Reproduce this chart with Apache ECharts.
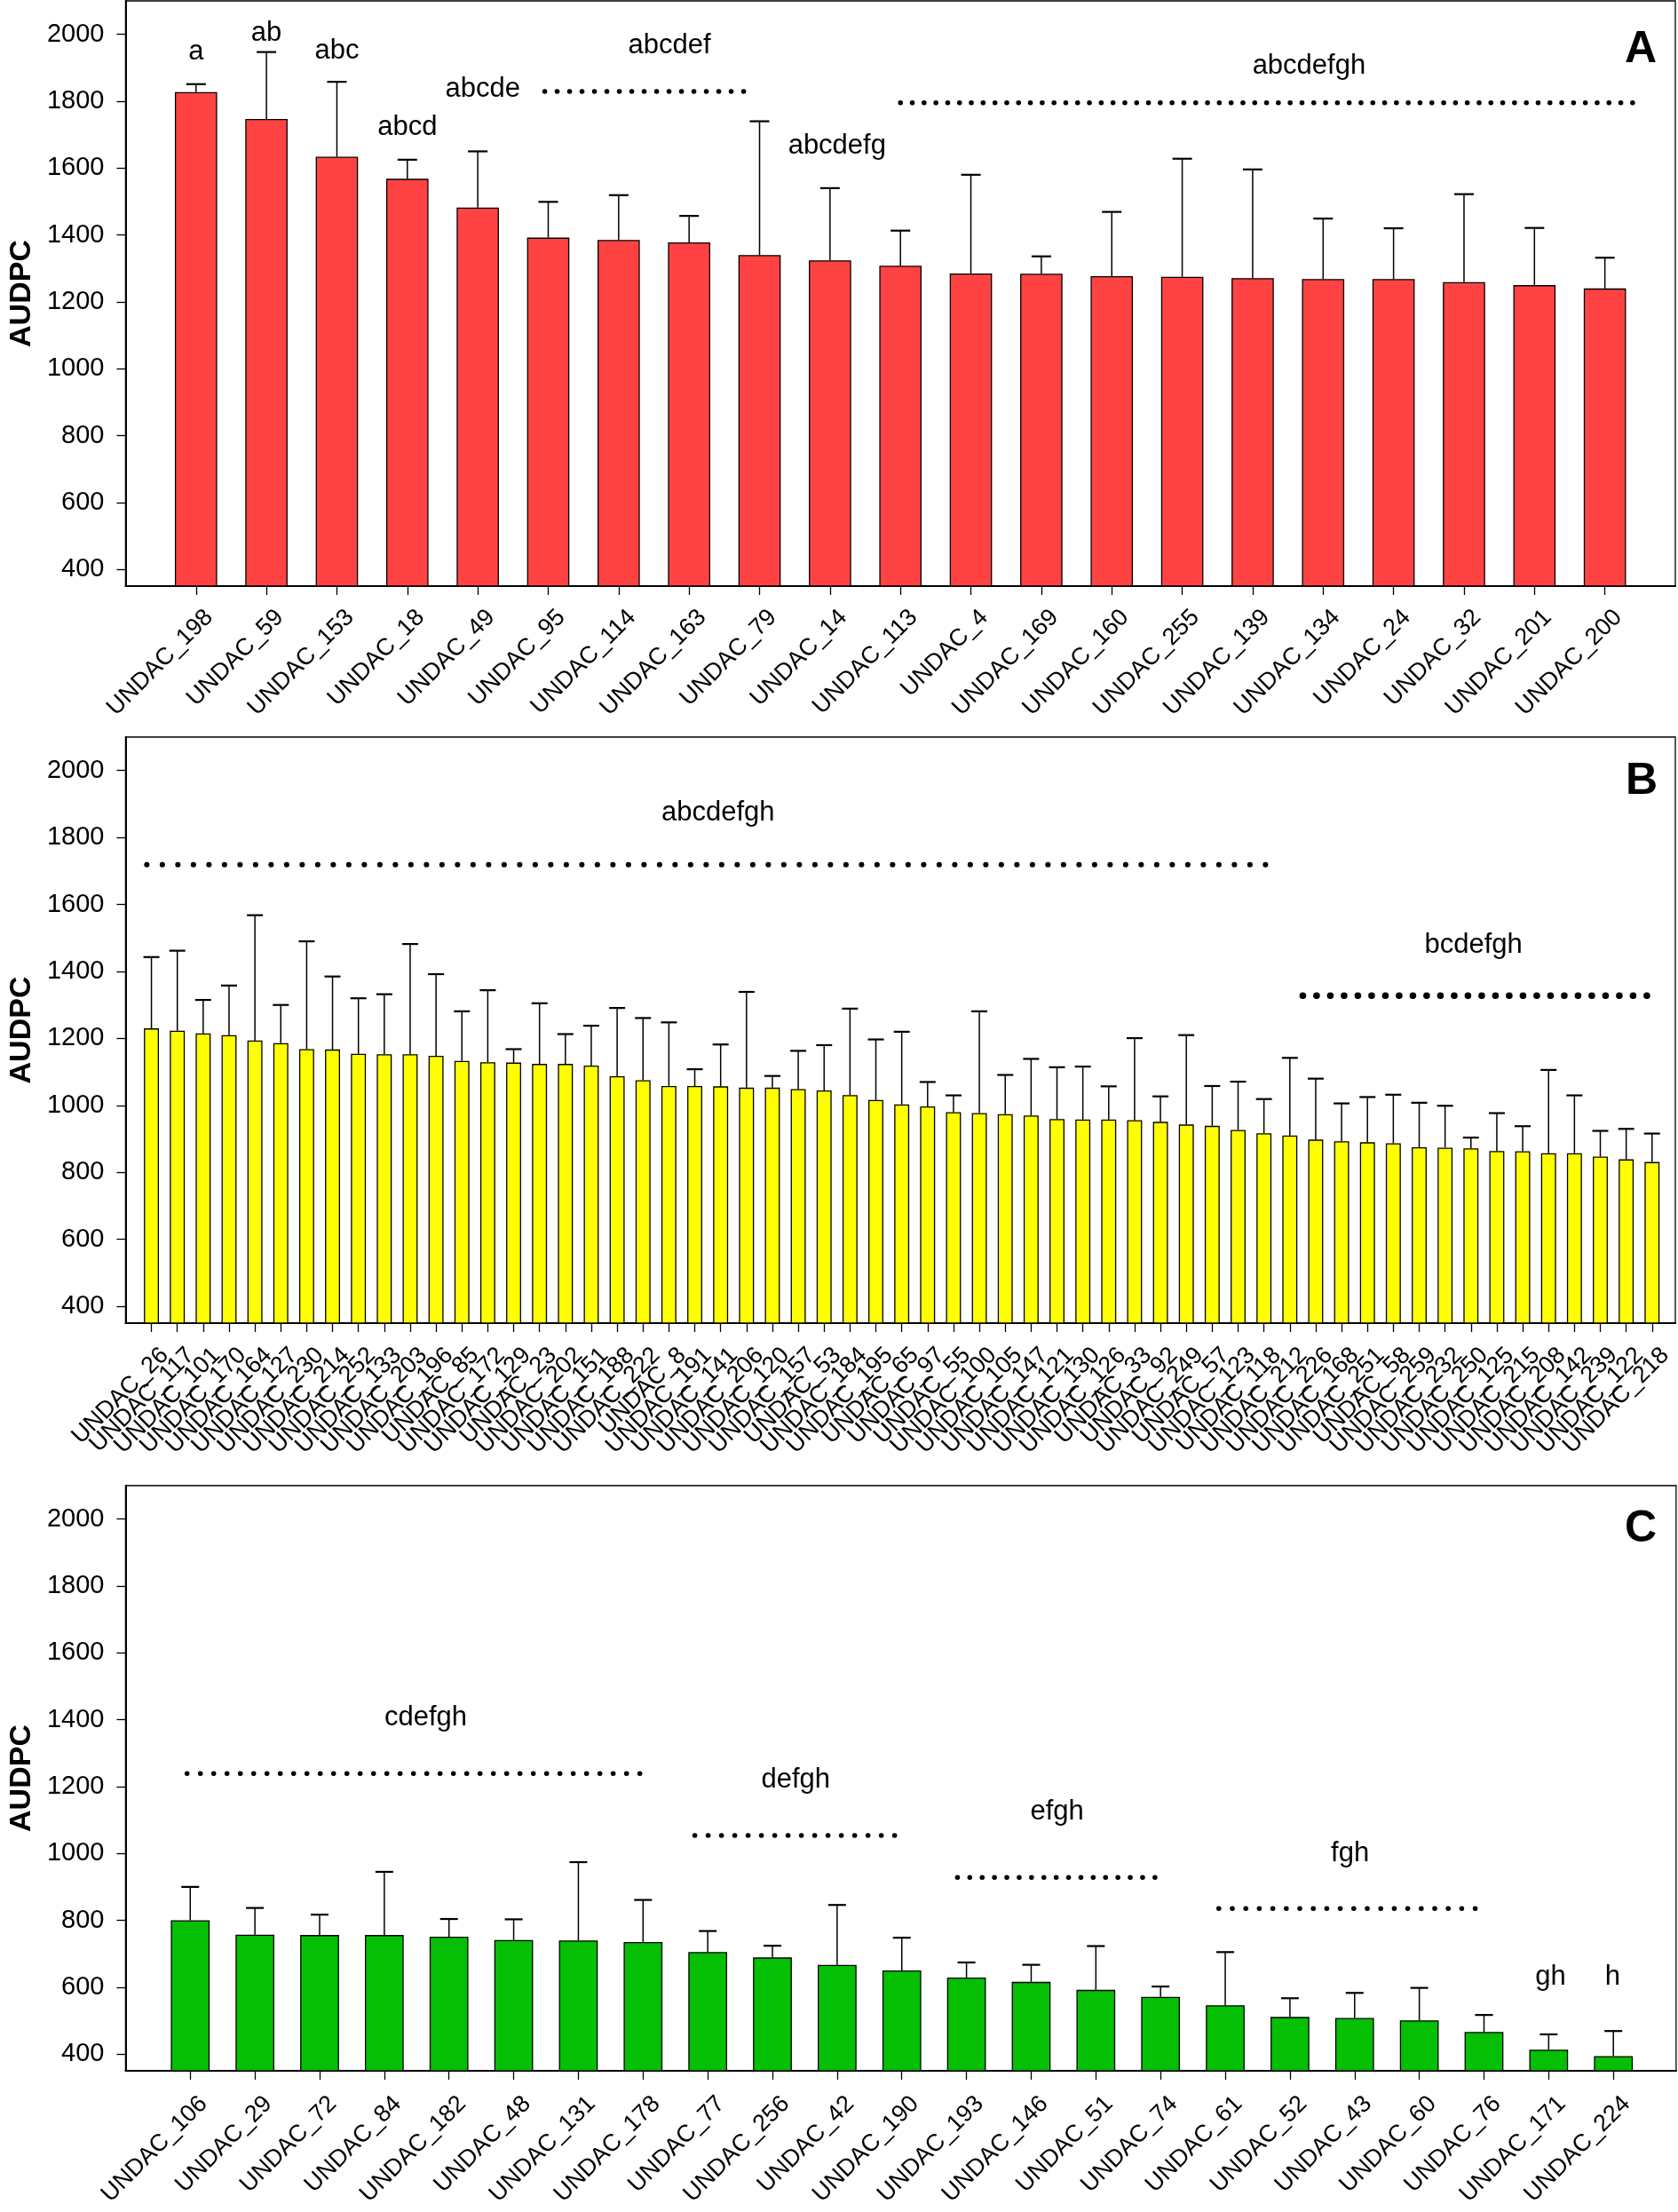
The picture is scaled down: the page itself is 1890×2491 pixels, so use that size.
<!DOCTYPE html>
<html><head><meta charset="utf-8">
<script src="https://cdn.jsdelivr.net/npm/echarts@6/dist/echarts.min.js"></script>
<style>html,body{margin:0;padding:0;background:#fff}#c{width:1890px;height:2491px}</style>
</head><body><div id="c"></div>
<script>
// ---------- data ----------
const yTicks = [400, 600, 800, 1000, 1200, 1400, 1600, 1800, 2000];

const catsA = ['UNDAC_198','UNDAC_59','UNDAC_153','UNDAC_18','UNDAC_49','UNDAC_95','UNDAC_114','UNDAC_163','UNDAC_79','UNDAC_14','UNDAC_113','UNDAC_4','UNDAC_169','UNDAC_160','UNDAC_255','UNDAC_139','UNDAC_134','UNDAC_24','UNDAC_32','UNDAC_201','UNDAC_200'];
const valsA = [1827,1747,1634,1568,1482,1392,1385,1378,1340,1324,1308,1285,1284,1277,1275,1271,1268,1268,1259,1250,1240];
const errA  = [24,200,224,57,168,107,134,79,400,216,105,295,52,192,353,325,181,152,263,171,92];
const lettersA = [[1,1947,'a'],[2,2004,'ab'],[3,1949,'abc'],[4,1721,'abcd'],[5.07,1836,'abcde'],[7.72,1965,'abcdef'],[10.1,1665,'abcdefg'],[16.8,1906,'abcdefgh']];
const groupLinesA = [[5.95,8.9,1829],[11.0,21.5,1795]];

const catsB = ['UNDAC_26','UNDAC_117','UNDAC_101','UNDAC_170','UNDAC_164','UNDAC_127','UNDAC_230','UNDAC_214','UNDAC_252','UNDAC_133','UNDAC_203','UNDAC_196','UNDAC_85','UNDAC_172','UNDAC_129','UNDAC_23','UNDAC_202','UNDAC_151','UNDAC_188','UNDAC_222','UNDAC_8','UNDAC_191','UNDAC_141','UNDAC_206','UNDAC_120','UNDAC_157','UNDAC_53','UNDAC_184','UNDAC_195','UNDAC_65','UNDAC_97','UNDAC_55','UNDAC_100','UNDAC_105','UNDAC_147','UNDAC_121','UNDAC_130','UNDAC_126','UNDAC_33','UNDAC_92','UNDAC_249','UNDAC_57','UNDAC_123','UNDAC_118','UNDAC_212','UNDAC_226','UNDAC_168','UNDAC_251','UNDAC_58','UNDAC_259','UNDAC_232','UNDAC_250','UNDAC_125','UNDAC_215','UNDAC_208','UNDAC_142','UNDAC_239','UNDAC_122','UNDAC_218'];
const valsB = [1230,1223,1215,1210,1194,1186,1168,1167,1154,1153,1153,1148,1133,1129,1128,1124,1124,1119,1087,1075,1058,1058,1057,1053,1053,1049,1045,1031,1016,1003,997,980,977,974,970,959,958,958,956,951,943,939,927,917,910,898,893,890,887,875,874,872,864,863,857,857,847,839,831];
const errB  = [213,239,100,148,374,114,322,218,166,179,329,244,148,215,40,181,89,119,204,186,190,50,125,286,35,114,135,258,181,217,73,50,304,117,169,155,158,99,245,76,267,119,144,102,232,182,113,135,145,133,125,32,113,75,249,173,77,91,85];
const lettersB = [[22.9,1874,'abcdefgh'],[52.1,1479,'bcdefgh']];
const groupLinesB = [[0.82,44.5,1719],[45.5,58.8,1328]];

const catsC = ['UNDAC_106','UNDAC_29','UNDAC_72','UNDAC_84','UNDAC_182','UNDAC_48','UNDAC_131','UNDAC_178','UNDAC_77','UNDAC_256','UNDAC_42','UNDAC_190','UNDAC_193','UNDAC_146','UNDAC_51','UNDAC_74','UNDAC_61','UNDAC_52','UNDAC_43','UNDAC_60','UNDAC_76','UNDAC_171','UNDAC_224'];
const valsC = [800,757,756,756,751,741,740,735,705,689,667,650,629,616,592,571,546,511,508,501,466,413,394];
const errC  = [100,80,61,189,53,62,234,126,63,35,179,98,45,51,131,31,159,56,75,97,51,46,75];
const lettersC = [[4.64,1405,'cdefgh'],[10.36,1220,'defgh'],[14.4,1124,'efgh'],[18.93,1000,'fgh'],[22.03,630,'gh'],[22.99,630,'h']];
const groupLinesC = [[0.95,7.96,1239],[8.8,12.04,1054],[12.86,16.1,928],[16.9,21.06,835]];

// ---------- layout / style ----------
const FONT = 'Liberation Sans, Arial, sans-serif';
const LABEL_SHIFT_PX = 15;   // rotated tick labels sit slightly right of their tick
const panels = [
  {id:'A', cats:catsA, vals:valsA, errs:errA, letters:lettersA, lines:groupLinesA, color:'#ff4343',
   grid:{left:134, top:1, width:1753, height:659}, xMax:22, barW:'60%', cap:22, lblMargin:31,
   dots:[{gap:14,size:5.5},{gap:13.3,size:5.5}], tag:{x:1848,y:56}},
  {id:'B', cats:catsB, vals:valsB, errs:errB, letters:lettersB, lines:groupLinesB, color:'#ffff00',
   grid:{left:134, top:830, width:1753, height:660}, xMax:59.9, barW:'58%', cap:18, lblMargin:32,
   dots:[{gap:17.5,size:6},{gap:15.5,size:7.5}], tag:{x:1849,y:880}},
  {id:'C', cats:catsC, vals:valsC, errs:errC, letters:lettersC, lines:groupLinesC, color:'#04bf04',
   grid:{left:137, top:1673, width:1751, height:659}, xMax:23.97, barW:'60%', cap:20, lblMargin:33,
   dots:[{gap:15,size:5.5},{gap:15,size:5.5},{gap:13.9,size:5.5},{gap:15.2,size:5.5}], tag:{x:1848,y:1722}}
];

const option = {
  animation:false, backgroundColor:'#fff',
  grid:[], xAxis:[], yAxis:[], series:[], graphic:[]
};

panels.forEach((p, gi) => {
  option.grid.push(Object.assign({show:true, borderColor:'#000', borderWidth:1.3, backgroundColor:'transparent', containLabel:false}, p.grid));
  const idx = p.cats.map((_, i) => i + 1);
  const off = LABEL_SHIFT_PX / (p.grid.width / p.xMax);
  // empty guard labels at both axis ends keep every real label visible
  const labelVals = [0].concat(idx.map(i => i + off), [p.xMax]);
  option.xAxis.push({
    type:'value', gridIndex:gi, min:0, max:p.xMax,
    axisLine:{show:true, onZero:false, lineStyle:{color:'#000', width:2}},
    axisTick:{show:true, customValues:idx, length:10, lineStyle:{color:'#000', width:1.3}},
    axisLabel:{show:true, customValues:labelVals, rotate:45, margin:p.lblMargin, hideOverlap:false,
      formatter:(v) => { const r = v - off, k = Math.round(r); return (Math.abs(r - k) < 1e-6 && k >= 1 && k <= p.cats.length) ? p.cats[k - 1] : ''; },
      color:'#000', fontSize:27, fontFamily:FONT},
    splitLine:{show:false}
  });
  option.yAxis.push({
    type:'value', gridIndex:gi, min:350, max:2100,
    name:'AUDPC', nameLocation:'middle', nameGap:97,
    nameTextStyle:{fontSize:34, fontWeight:'bold', color:'#000', fontFamily:FONT},
    axisLine:{show:true, lineStyle:{color:'#000', width:2}},
    axisTick:{show:true, customValues:yTicks, length:10, lineStyle:{color:'#000', width:1.3}},
    axisLabel:{show:true, customValues:yTicks, margin:24, color:'#000', fontSize:29, fontFamily:FONT,
      showMinLabel:true, showMaxLabel:true, formatter:(v) => String(Math.round(v))},
    splitLine:{show:false}
  });
  option.series.push({
    type:'bar', xAxisIndex:gi, yAxisIndex:gi, barWidth:p.barW,
    data:p.vals.map((v, i) => [i + 1, v]),
    itemStyle:{color:p.color, borderColor:'#000', borderWidth:1.3},
    z:2
  });
  const cap = p.cap;
  option.series.push({
    type:'custom', xAxisIndex:gi, yAxisIndex:gi, z:3,
    data:p.vals.map((v, i) => [i + 1, v, p.errs[i]]),
    renderItem:(params, api) => {
      const x = api.value(0), v = api.value(1), e = api.value(2);
      const b = api.coord([x, v]), t = api.coord([x, v + e]);
      return {type:'group', children:[
        {type:'line', shape:{x1:b[0], y1:b[1], x2:t[0], y2:t[1]}, style:{stroke:'#000', lineWidth:1.5}},
        {type:'line', shape:{x1:t[0] - cap / 2, y1:t[1], x2:t[0] + cap / 2, y2:t[1]}, style:{stroke:'#000', lineWidth:2.2}}
      ]};
    }
  });
  option.series.push({
    type:'custom', xAxisIndex:gi, yAxisIndex:gi, z:4,
    data:p.letters.map(d => [d[0], d[1], d[2]]),
    dimensions:['x','y','t'],
    renderItem:(params, api) => {
      const d = p.letters[params.dataIndex];
      const c = api.coord([d[0], d[1]]);
      return {type:'text', x:c[0], y:c[1], style:{text:d[2], fill:'#000', font:'31px ' + FONT, textAlign:'center', textVerticalAlign:'middle'}};
    }
  });
  p.lines.forEach((ln, li) => {
    const ds = p.dots[li];
    option.series.push({
      type:'line', xAxisIndex:gi, yAxisIndex:gi, z:4, symbol:'none', clip:false,
      data:[[ln[0], ln[2]], [ln[1], ln[2]]],
      lineStyle:{color:'#000', width:ds.size, type:[0.1, ds.gap - 0.1], cap:'round'}
    });
  });
  option.graphic.push({type:'text', x:p.tag.x, y:p.tag.y, z:10,
    style:{text:p.id, fill:'#000', font:'bold 50px ' + FONT, textAlign:'center', textVerticalAlign:'middle'}});
});

const chart = echarts.init(document.getElementById('c'), null, {renderer:'canvas'});
chart.setOption(option);
</script>
</body></html>
